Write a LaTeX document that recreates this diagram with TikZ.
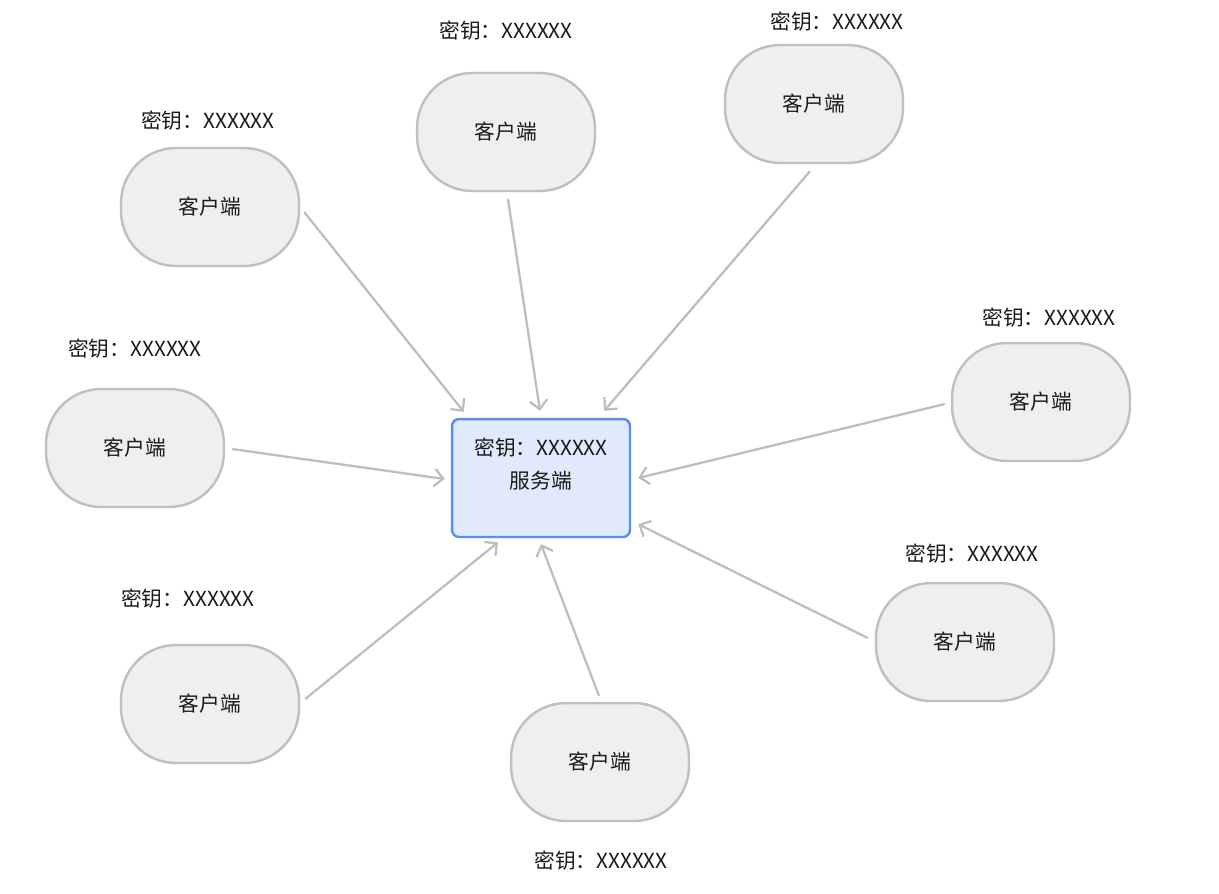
\documentclass[tikz,border=0pt]{standalone}
\usepackage{fontspec}
\setmainfont{Noto Sans CJK SC}
\usetikzlibrary{arrows.meta,calc}

\definecolor{clientfill}{HTML}{EEEFF1}
\definecolor{clientline}{HTML}{BFC0C4}
\definecolor{serverfill}{HTML}{E1E9FD}
\definecolor{serverline}{HTML}{5A8DF0}
\definecolor{linkgray}{HTML}{BDBEC2}
\definecolor{textdark}{HTML}{1A1A1A}

\tikzset{
    base/.style={font=\fontsize{11.8}{18.5}\selectfont, text=textdark},
    client/.style={base, draw=clientline, fill=clientfill, line width=1.4pt,
        rounded corners=1.1cm, minimum width=3.56cm, minimum height=2.36cm, inner sep=0pt},
    server/.style={base, draw=serverline, fill=serverfill, line width=1.4pt,
        rounded corners=0.14cm, minimum width=3.56cm, minimum height=2.36cm, inner sep=0pt, align=center},
    keytext/.style={base, inner sep=0pt},
    link/.style={draw=linkgray, line width=1.3pt, -{Straight Barb[length=5pt, width=10pt]}}
}

\begin{document}
\begin{tikzpicture}[x=0.02cm, y=-0.02cm]
    \useasboundingbox (0,0) rectangle (1219,893);

    % Server
    \node[server] (srv) at (541,478) {密钥：XXXXXX\\服务端\\[-7pt]\strut};

    % Clients
    \node[client] (c1) at (210,207) {客户端};
    \node[client] (c2) at (506,132) {客户端};
    \node[client] (c3) at (814,104) {客户端};
    \node[client] (c4) at (135,448) {客户端};
    \node[client] (c5) at (1041,402) {客户端};
    \node[client] (c6) at (965,642) {客户端};
    \node[client] (c7) at (600,762) {客户端};
    \node[client] (c8) at (210,704) {客户端};

    % Keys
    \node[keytext] (k1) at (208,121) {密钥：XXXXXX};
    \node[keytext] (k2) at (506,31) {密钥：XXXXXX};
    \node[keytext] (k3) at (837,22) {密钥：XXXXXX};
    \node[keytext] (k4) at (135,349) {密钥：XXXXXX};
    \node[keytext] (k5) at (1049,318) {密钥：XXXXXX};
    \node[keytext] (k6) at (972,554) {密钥：XXXXXX};
    \node[keytext] (k7) at (601,861) {密钥：XXXXXX};
    \node[keytext] (k8) at (188,599) {密钥：XXXXXX};

    % Links
    \draw[link] ($(c1.east)+(4,5)$) -- ($(srv.north west)+(13,-6)$);
    \draw[link] ($(c2.south)+(2,7)$) -- ($(srv.north)+(-1,-7)$);
    \draw[link] ($(c3.south)+(-4,7)$) -- ($(srv.north east)+(-27,-7)$);
    \draw[link] ($(c4.east)+(7,1)$) -- ($(srv.west)+(-6,1)$);
    \draw[link] ($(c5.west)+(-6,2)$) -- ($(srv.east)+(7,0)$);
    \draw[link] ($(c6.west)+(-7,-4)$) -- ($(srv.south east)+(7,-14)$);
    \draw[link] ($(c7.north)+(-1,-6)$) -- ($(srv.south)+(0,6)$);
    \draw[link] ($(c8.east)+(5,-5)$) -- ($(srv.south)+(-43,4)$);

\end{tikzpicture}
\end{document}
